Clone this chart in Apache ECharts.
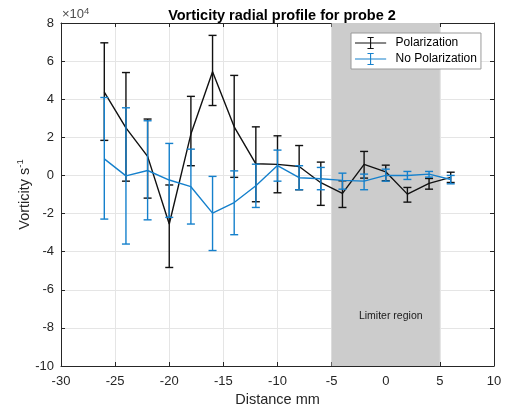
<!DOCTYPE html>
<html>
<head>
<meta charset="utf-8">
<script src="https://cdn.jsdelivr.net/npm/echarts@6/dist/echarts.min.js"></script>
<style>html,body{margin:0;padding:0;background:#fff}#c{width:506px;height:409px}</style>
</head>
<body>
<div id="c"></div>
<script>
// values in units of 1e4 s^-1
const distance = [-26,-24,-22,-20,-18,-16,-14,-12,-10,-8,-6,-4,-2,0,2,4,6];
const polValue = [4.37,2.50,1.00,-2.55,2.17,5.44,2.55,0.61,0.58,0.47,-0.38,-0.94,0.58,0.19,-0.98,-0.42,-0.10];
const polUpper = [6.96,5.40,2.96,-0.50,4.15,7.35,5.25,2.55,2.08,1.57,0.70,-0.28,1.26,0.54,-0.63,-0.16,0.17];
const polLower = [1.84,-0.30,-1.19,-4.83,0.51,3.67,-0.10,-1.38,-0.91,-0.75,-1.57,-1.68,-0.14,-0.28,-1.40,-0.72,-0.37];
const noPolValue = [0.87,-0.02,0.26,-0.24,-0.59,-1.98,-1.42,-0.54,0.52,-0.12,-0.17,-0.26,-0.30,0.00,0.00,0.07,-0.21];
const noPolUpper = [4.09,3.55,2.87,1.68,1.38,-0.05,0.24,0.59,1.33,0.51,0.42,0.12,0.07,0.33,0.21,0.21,0.00];
const noPolLower = [-2.29,-3.60,-2.33,-2.20,-2.55,-3.94,-3.11,-1.68,-0.30,-0.75,-0.75,-0.72,-0.75,-0.30,-0.21,-0.09,-0.44];
const limiterRange = [-5, 5];
const xTicks = {min:-30, max:10, interval:5};
const yTicks = {min:-10, max:8, interval:2};

const BLACK = '#111111', BLUE = '#1580cc';
const FONT = 'Liberation Sans, Arial, sans-serif';
const chart = echarts.init(document.getElementById('c'), null, {renderer:'canvas'});

function errData(v, up, lo){ return distance.map((x,i)=>[x, lo[i], up[i], v[i]]); }
function errRender(color){
  return function(params, api){
    const x = api.value(0);
    const lo = api.coord([x, api.value(1)]);
    const hi = api.coord([x, api.value(2)]);
    const w = 4;
    const st = {stroke:color, lineWidth:1.4};
    return {type:'group', children:[
      {type:'line', shape:{x1:lo[0],y1:lo[1],x2:hi[0],y2:hi[1]}, style:st},
      {type:'line', shape:{x1:lo[0]-w,y1:lo[1],x2:lo[0]+w,y2:lo[1]}, style:st},
      {type:'line', shape:{x1:hi[0]-w,y1:hi[1],x2:hi[0]+w,y2:hi[1]}, style:st}
    ]};
  };
}
const legendIcon = 'path://M0,9.3H40V10.7H0Z M19.3,3H20.7V17H19.3Z M16,2.3H24V3.7H16Z M16,16.3H24V17.7H16Z';
const axisCol = '#262626';
const lbl = {color:axisCol, fontSize:13, fontFamily:FONT};

chart.setOption({
  animation:false,
  title:{text:'Vorticity radial profile for probe 2', left:277, top:3, textAlign:'center',
    textStyle:{fontSize:14.5, fontWeight:'bold', color:'#000', fontFamily:FONT}},
  grid:{left:61, right:12, top:23, bottom:43, containLabel:false, outerBoundsMode:'none'},
  legend:{left:351, top:33, orient:'vertical', padding:[4,4,4,4], itemGap:4, itemWidth:40, itemHeight:12,
    backgroundColor:'#fff', borderColor:'#9a9a9a', borderWidth:1, borderRadius:0, selectedMode:false,
    textStyle:{fontSize:12, color:'#000', fontFamily:FONT},
    data:[{name:'Polarization', icon:legendIcon, itemStyle:{color:BLACK}},
          {name:'No Polarization', icon:legendIcon, itemStyle:{color:BLUE}}]},
  xAxis:[
    {type:'value', min:xTicks.min, max:xTicks.max, interval:xTicks.interval, position:'bottom',
     name:'Distance mm', nameLocation:'middle', nameGap:26, nameMoveOverlap:false,
     nameTextStyle:{fontSize:14.5, color:axisCol, fontFamily:FONT},
     axisLine:{onZero:false, lineStyle:{color:axisCol, width:1}},
     axisTick:{inside:true, length:4, lineStyle:{color:axisCol}},
     axisLabel:Object.assign({margin:9}, lbl),
     splitLine:{show:true, lineStyle:{color:'#e5e5e5', width:1}}},
    {type:'value', min:xTicks.min, max:xTicks.max, interval:xTicks.interval, position:'top',
     axisLine:{onZero:false, lineStyle:{color:axisCol, width:1}},
     axisTick:{inside:true, length:4, lineStyle:{color:axisCol}},
     axisLabel:{show:false}, splitLine:{show:false}}
  ],
  yAxis:[
    {type:'value', min:yTicks.min, max:yTicks.max, interval:yTicks.interval, position:'left',
     name:'{a|Vorticity s}{b|-1}', nameLocation:'middle', nameGap:29, nameRotate:90, nameMoveOverlap:false,
     nameTextStyle:{color:axisCol, fontFamily:FONT,
       rich:{a:{fontSize:14.5, color:axisCol, fontFamily:FONT, verticalAlign:'bottom', lineHeight:17},
             b:{fontSize:9.5, color:axisCol, fontFamily:FONT, verticalAlign:'top', padding:[0,0,8,0], lineHeight:17}}},
     axisLine:{onZero:false, lineStyle:{color:axisCol, width:1}},
     axisTick:{inside:true, length:4, lineStyle:{color:axisCol}},
     axisLabel:Object.assign({margin:7}, lbl),
     splitLine:{show:true, lineStyle:{color:'#e5e5e5', width:1}}},
    {type:'value', min:yTicks.min, max:yTicks.max, interval:yTicks.interval, position:'right',
     axisLine:{onZero:false, lineStyle:{color:axisCol, width:1}},
     axisTick:{inside:true, length:4, lineStyle:{color:axisCol}},
     axisLabel:{show:false}, splitLine:{show:false}}
  ],
  graphic:[{type:'text', left:62, top:6, z:10,
    style:{text:'{a|×10}{b|4}', rich:{a:{fontSize:13, fill:'#4d4d4d', fontFamily:FONT},
      b:{fontSize:9.5, fill:'#4d4d4d', fontFamily:FONT, verticalAlign:'top', padding:[0,0,7,0]}}}}],
  series:[
    {name:'Polarization', type:'line', data:distance.map((x,i)=>[x, polValue[i]]), showSymbol:false, symbol:'none',
     lineStyle:{color:BLACK, width:1.4}, itemStyle:{color:BLACK}, z:3,
     markArea:{silent:true, itemStyle:{color:'#cccccc', opacity:1},
       label:{show:true, position:['50%','85.4%'], offset:[5,0], align:'center', verticalAlign:'middle',
         formatter:'Limiter region', fontSize:10.5, color:'#1a1a1a', fontFamily:FONT},
       data:[[{xAxis:limiterRange[0]},{xAxis:limiterRange[1]}]]}},
    {name:'Polarization', type:'custom', data:errData(polValue, polUpper, polLower), renderItem:errRender(BLACK), z:3,
     encode:{x:0, y:[1,2]}},
    {name:'No Polarization', type:'line', data:distance.map((x,i)=>[x, noPolValue[i]]), showSymbol:false, symbol:'none',
     lineStyle:{color:BLUE, width:1.4}, itemStyle:{color:BLUE}, z:4},
    {name:'No Polarization', type:'custom', data:errData(noPolValue, noPolUpper, noPolLower), renderItem:errRender(BLUE), z:4,
     encode:{x:0, y:[1,2]}}
  ]
});
</script>
</body>
</html>
